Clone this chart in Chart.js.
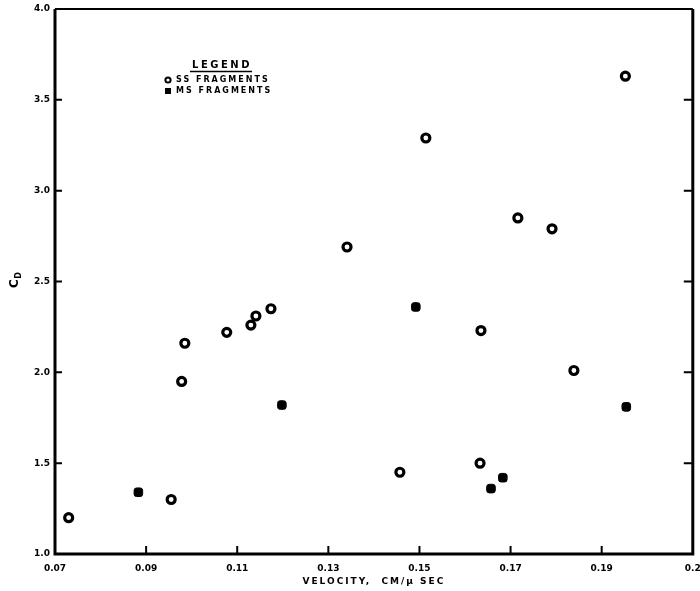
<!DOCTYPE html>
<html>
<head>
<meta charset="utf-8">
<script src="https://cdn.jsdelivr.net/npm/chart.js@4"></script>
<style>
  html, body { margin: 0; padding: 0; background: #fff; }
  #wrap { width: 700px; height: 591px; position: relative; }
</style>
</head>
<body>
<div id="wrap"><canvas id="myChart"></canvas></div>
<script>
// SS fragments (open circles)
const ssVelocity = [0.073, 0.0955, 0.0978, 0.0985, 0.1077, 0.113, 0.1141, 0.1174, 0.1341, 0.1457, 0.1514, 0.1633, 0.1635, 0.1716, 0.1791, 0.1839, 0.1952];
const ssCd = [1.20, 1.30, 1.95, 2.16, 2.22, 2.26, 2.31, 2.35, 2.69, 1.45, 3.29, 1.50, 2.23, 2.85, 2.79, 2.01, 3.63];
// MS fragments (filled squares)
const msVelocity = [0.0883, 0.1198, 0.1492, 0.1657, 0.1683, 0.1954];
const msCd = [1.34, 1.82, 2.36, 1.36, 1.42, 1.81];

const xTicks = [0.07, 0.09, 0.11, 0.13, 0.15, 0.17, 0.19, 0.21];
const xTickLabels = ['0.07', '0.09', '0.11', '0.13', '0.15', '0.17', '0.19', '0.2'];
const yTicks = [1.0, 1.5, 2.0, 2.5, 3.0, 3.5, 4.0];
const yTickLabels = ['1.0', '1.5', '2.0', '2.5', '3.0', '3.5', '4.0'];

const labelFont = 'bold 9px "DejaVu Sans"';

function toPoints(xs, ys) {
  return xs.map((x, i) => ({ x: x, y: ys[i] }));
}

// frame, inward tick marks, legend box, axis titles
const framePlugin = {
  id: 'frame',
  afterDraw(chart) {
    const ctx = chart.ctx;
    const a = chart.chartArea;
    const xs = chart.scales.x, ys = chart.scales.y;
    ctx.save();
    ctx.strokeStyle = '#000';
    ctx.lineWidth = 3;
    ctx.beginPath();
    ctx.moveTo(a.left, a.top);
    ctx.lineTo(a.left, a.bottom);
    ctx.lineTo(a.right, a.bottom);
    ctx.lineTo(a.right, a.top);
    ctx.stroke();
    ctx.lineWidth = 2;
    ctx.beginPath();
    ctx.moveTo(a.left, a.top);
    ctx.lineTo(a.right, a.top);
    ctx.stroke();

    ctx.lineWidth = 2;
    ctx.beginPath();
    ys.ticks.forEach((t, i) => {
      const py = ys.getPixelForTick(i);
      if (i === 0 || i === ys.ticks.length - 1) return;
      ctx.moveTo(a.left, py); ctx.lineTo(a.left + 7, py);
      ctx.moveTo(a.right, py); ctx.lineTo(a.right - 9, py);
    });
    xs.ticks.forEach((t, i) => {
      if (i === 0 || i === xs.ticks.length - 1) return;
      const px = xs.getPixelForTick(i);
      ctx.moveTo(px, a.bottom); ctx.lineTo(px, a.bottom - 8);
    });
    ctx.stroke();

    // x axis title
    ctx.fillStyle = '#000';
    ctx.font = labelFont;
    ctx.letterSpacing = '2px';
    ctx.textAlign = 'center';
    ctx.textBaseline = 'middle';
    ctx.fillText('VELOCITY,  CM/\u03BC SEC', (a.left + a.right) / 2, 582);

    // y axis title, rotated
    ctx.save();
    ctx.letterSpacing = '0px';
    ctx.translate(15, ys.getPixelForValue(2.5));
    ctx.rotate(-Math.PI / 2);
    ctx.font = 'bold 12px "DejaVu Sans"';
    ctx.textAlign = 'center';
    ctx.fillText('C', -2, 0);
    ctx.font = 'bold 8px "DejaVu Sans"';
    ctx.fillText('D', 6, 4);
    ctx.restore();

    // legend
    ctx.font = 'bold 10px "DejaVu Sans"';
    ctx.letterSpacing = '2.5px';
    ctx.textAlign = 'center';
    ctx.fillText('LEGEND', 222, 65);
    ctx.lineWidth = 1.5;
    ctx.beginPath();
    ctx.moveTo(190, 71.5); ctx.lineTo(252, 71.5);
    ctx.stroke();
    ctx.font = 'bold 8px "DejaVu Sans"';
    ctx.letterSpacing = '2px';
    ctx.textAlign = 'left';
    ctx.fillText('SS FRAGMENTS', 176, 80);
    ctx.fillText('MS FRAGMENTS', 176, 91);
    ctx.lineWidth = 2;
    ctx.beginPath();
    ctx.arc(168, 80, 2.6, 0, Math.PI * 2);
    ctx.stroke();
    ctx.fillRect(165, 88, 6, 6);
    ctx.restore();
  }
};

const ctx = document.getElementById('myChart').getContext('2d');
const myChart = new Chart(ctx, {
  type: 'scatter',
  data: {
    datasets: [
      {
        label: 'SS FRAGMENTS',
        data: toPoints(ssVelocity, ssCd),
        pointStyle: 'circle',
        pointRadius: 4,
        pointBorderWidth: 3.2,
        pointBackgroundColor: '#fff',
        pointBorderColor: '#000'
      },
      {
        label: 'MS FRAGMENTS',
        data: toPoints(msVelocity, msCd),
        pointStyle: 'rectRounded',
        pointRadius: 5,
        pointBorderWidth: 1,
        pointBackgroundColor: '#000',
        pointBorderColor: '#000'
      }
    ]
  },
  options: {
    responsive: true,
    maintainAspectRatio: false,
    animation: false,
    layout: { padding: { left: 0, right: 7, top: 9, bottom: 0 } },
    plugins: {
      legend: { display: false },
      tooltip: { enabled: false }
    },
    scales: {
      x: {
        type: 'linear',
        min: 0.07,
        max: 0.21,
        afterBuildTicks(scale) { scale.ticks = xTicks.map(v => ({ value: v })); },
        afterFit(scale) { scale.height = 37; scale.paddingLeft = 0; scale.paddingRight = 0; },
        grid: { display: false, drawTicks: false },
        border: { display: false },
        ticks: {
          autoSkip: false,
          maxRotation: 0,
          padding: 9,
          color: '#000',
          font: { family: 'DejaVu Sans', size: 9, weight: 'bold' },
          callback: (v, i) => xTickLabels[i]
        }
      },
      y: {
        type: 'linear',
        min: 1.0,
        max: 4.0,
        afterBuildTicks(scale) { scale.ticks = yTicks.map(v => ({ value: v })); },
        afterFit(scale) { scale.width = 55; scale.paddingTop = 0; scale.paddingBottom = 0; },
        grid: { display: false, drawTicks: false },
        border: { display: false },
        ticks: {
          autoSkip: false,
          padding: 5,
          color: '#000',
          font: { family: 'DejaVu Sans', size: 9, weight: 'bold' },
          callback: (v, i) => yTickLabels[i]
        }
      }
    }
  },
  plugins: [framePlugin]
});
</script>
</body>
</html>
